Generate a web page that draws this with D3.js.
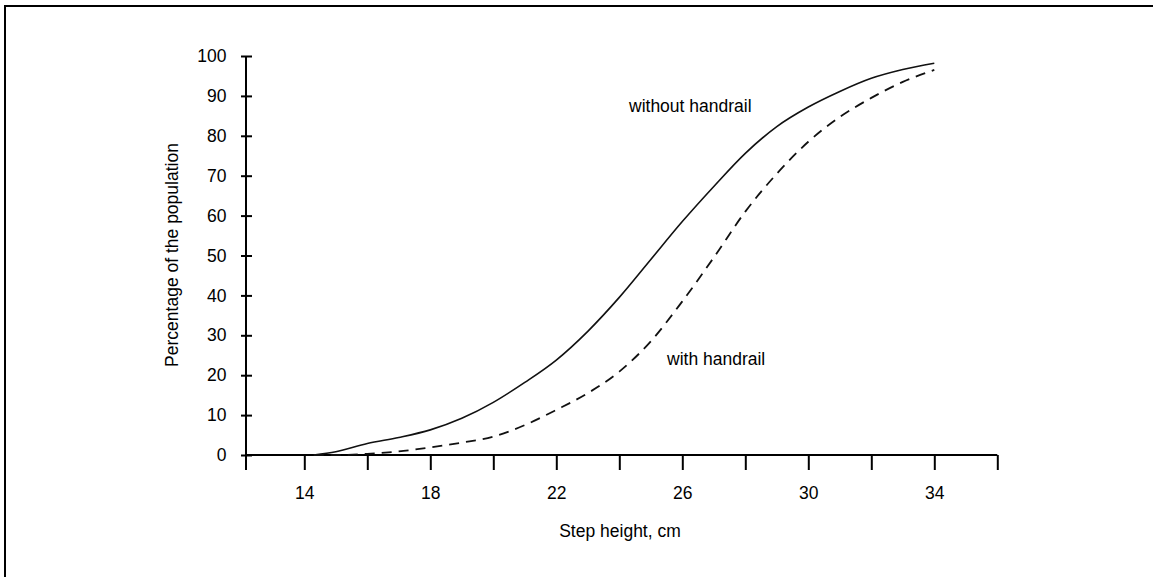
<!DOCTYPE html>
<html>
<head>
<meta charset="utf-8">
<script src="https://cdn.jsdelivr.net/npm/d3@7"></script>
<style>
  html, body { margin: 0; padding: 0; background: #fff; }
  svg { display: block; }
  text { font-family: "Liberation Sans", Arial, sans-serif; fill: #000; }
</style>
</head>
<body>
<svg id="chart" width="1153" height="577"></svg>
<script>
// ---- data ----
const heights = [14.3, 15, 16, 17, 18, 19, 20, 21, 22, 23, 24, 25, 26, 27, 28, 29, 30, 31, 32, 33, 34];
const withoutHandrail = [0, 0.8, 2.9, 4.4, 6.3, 9.2, 13.2, 18.2, 23.8, 31, 39.5, 49, 58.5, 67.3, 75.6, 82.3, 87.2, 91.1, 94.4, 96.6, 98.2];
const withHandrail = [0, 0, 0.3, 0.9, 1.9, 3.1, 4.6, 7.5, 11.3, 15.5, 20.9, 28.5, 38.5, 49.5, 61, 70.5, 78.5, 84.7, 89.5, 93.5, 96.5];
const xTicks = [14, 16, 18, 20, 22, 24, 26, 28, 30, 32, 34, 36];
const xTickLabels = [14, 18, 22, 26, 30, 34];
const yTicks = [0, 10, 20, 30, 40, 50, 60, 70, 80, 90, 100];
const xTitle = "Step height, cm";
const yTitle = "Percentage of the population";
const seriesLabels = ["without handrail", "with handrail"];

// ---- layout ----
const svg = d3.select("#chart");
const x = d3.scaleLinear().domain([12, 36]).range([241.3, 997.3]);
const y = d3.scaleLinear().domain([0, 100]).range([455, 56]);
const axisX = 246; // pixel position of the y axis
const fs = "17.5px";

// frame (only top and left visible)
svg.append("rect")
  .attr("x", 5).attr("y", 6).attr("width", 1300).attr("height", 700)
  .attr("fill", "none").attr("stroke", "#000").attr("stroke-width", 2);

// x axis
const gx = svg.append("g").attr("transform", `translate(0,${y(0)})`)
  .call(d3.axisBottom(x).tickValues(xTicks).tickSize(15).tickPadding(17)
    .tickFormat(d => xTickLabels.includes(d) ? d : ""));
gx.select(".domain").remove();
gx.selectAll(".tick line").attr("stroke", "#000").attr("stroke-width", 2);
gx.selectAll(".tick text").style("font-size", fs).style("font-family", '"Liberation Sans", Arial, sans-serif');
gx.append("line").attr("x1", axisX).attr("x2", x(36)).attr("y1", 0).attr("y2", 0)
  .attr("stroke", "#000").attr("stroke-width", 2.2);

// y axis
const gy = svg.append("g").attr("transform", `translate(${axisX},0)`)
  .call(d3.axisLeft(y).tickValues(yTicks).tickSize(5).tickPadding(14.5));
gy.select(".domain").remove();
gy.selectAll(".tick line").attr("x1", 6).attr("x2", -5).attr("stroke", "#000").attr("stroke-width", 2);
gy.selectAll(".tick text").style("font-size", fs).style("font-family", '"Liberation Sans", Arial, sans-serif');
gy.append("line").attr("x1", 0).attr("x2", 0).attr("y1", y(100)).attr("y2", y(0) + 15)
  .attr("stroke", "#000").attr("stroke-width", 2);

// titles
svg.append("text").attr("x", 620).attr("y", 537).attr("text-anchor", "middle")
  .style("font-size", fs).text(xTitle);
svg.append("text").attr("transform", "translate(178,255) rotate(-90)").attr("text-anchor", "middle")
  .style("font-size", fs).text(yTitle);

// lines
const line = d3.line().x((d, i) => x(heights[i])).y(d => y(d)).curve(d3.curveMonotoneX);
svg.append("path").datum(withoutHandrail).attr("d", line)
  .attr("fill", "none").attr("stroke", "#111").attr("stroke-width", 1.6);
svg.append("path").datum(withHandrail).attr("d", line)
  .attr("fill", "none").attr("stroke", "#111").attr("stroke-width", 1.8)
  .attr("stroke-dasharray", "10,7");

// series labels
svg.append("text").attr("x", 629).attr("y", 112).style("font-size", fs).text(seriesLabels[0]);
svg.append("text").attr("x", 667).attr("y", 365).style("font-size", fs).text(seriesLabels[1]);
</script>
</body>
</html>
